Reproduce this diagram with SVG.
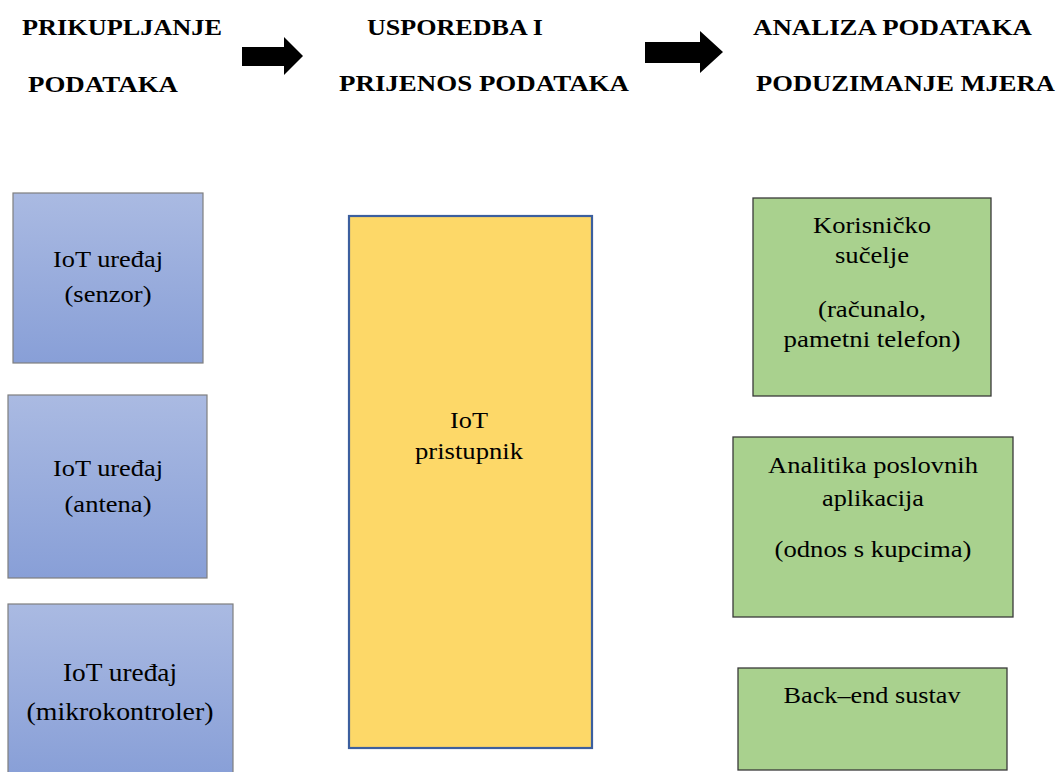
<svg xmlns="http://www.w3.org/2000/svg" width="1059" height="772" viewBox="0 0 1059 772">
<defs>
<linearGradient id="blueGrad" x1="0" y1="0" x2="0" y2="1">
<stop offset="0" stop-color="#aabae2"/>
<stop offset="1" stop-color="#889fd7"/>
</linearGradient>
</defs>
<style>
text{font-family:'Liberation Serif','Times New Roman','DejaVu Serif',serif;fill:#000}
.hdr{font-weight:bold;font-size:23px}
.lbl{font-size:23px;text-anchor:middle}
.big{font-size:25px}
.blue{fill:url(#blueGrad);stroke:#7f7f7f;stroke-width:1.2}
.green{fill:#a9d18e;stroke:#3a3a3a;stroke-width:1.3}
.yellow{fill:#fdd868;stroke:#3c5f9e;stroke-width:2.2}
.arrow{fill:#000}
</style>
<rect width="1059" height="772" fill="#fff"/>
<g id="headers">
<text class="hdr" x="22" y="35" textLength="200" lengthAdjust="spacingAndGlyphs">PRIKUPLJANJE</text>
<text class="hdr" x="28" y="92" textLength="150" lengthAdjust="spacingAndGlyphs">PODATAKA</text>
<text class="hdr" x="367" y="35" textLength="176" lengthAdjust="spacingAndGlyphs">USPOREDBA I</text>
<text class="hdr" x="339" y="91" textLength="290" lengthAdjust="spacingAndGlyphs">PRIJENOS PODATAKA</text>
<text class="hdr" x="753" y="35" textLength="279" lengthAdjust="spacingAndGlyphs">ANALIZA PODATAKA</text>
<text class="hdr" x="756" y="91" textLength="299" lengthAdjust="spacingAndGlyphs">PODUZIMANJE MJERA</text>
</g>
<g id="connectors">
<polygon class="arrow" points="242,47 284,47 284,37 303,56 284,75 284,66 242,66"/>
<polygon class="arrow" points="645,42 700,42 700,31 723,52 700,73 700,63 645,63"/>
</g>
<g id="node-senzor">
<rect class="blue" x="13" y="193" width="190" height="170"/>
<text class="lbl" x="108" y="267" textLength="110" lengthAdjust="spacingAndGlyphs">IoT uređaj</text>
<text class="lbl" x="108" y="302" textLength="87" lengthAdjust="spacingAndGlyphs">(senzor)</text>
</g>
<g id="node-antena">
<rect class="blue" x="8" y="395" width="199" height="183"/>
<text class="lbl" x="108" y="476" textLength="110" lengthAdjust="spacingAndGlyphs">IoT uređaj</text>
<text class="lbl" x="108" y="512" textLength="87" lengthAdjust="spacingAndGlyphs">(antena)</text>
</g>
<g id="node-mikrokontroler">
<rect class="blue" x="8" y="604" width="225" height="172"/>
<text class="lbl big" x="120" y="681" textLength="114" lengthAdjust="spacingAndGlyphs">IoT uređaj</text>
<text class="lbl big" x="120" y="720" textLength="187" lengthAdjust="spacingAndGlyphs">(mikrokontroler)</text>
</g>
<g id="node-pristupnik">
<rect class="yellow" x="349" y="216" width="243" height="532"/>
<text class="lbl" x="469" y="428" textLength="38" lengthAdjust="spacingAndGlyphs">IoT</text>
<text class="lbl" x="469" y="459" textLength="108" lengthAdjust="spacingAndGlyphs">pristupnik</text>
</g>
<g id="node-korisnicko">
<rect class="green" x="753" y="198" width="238" height="198"/>
<text class="lbl" x="872" y="233" textLength="118" lengthAdjust="spacingAndGlyphs">Korisničko</text>
<text class="lbl" x="872" y="263" textLength="74" lengthAdjust="spacingAndGlyphs">sučelje</text>
<text class="lbl" x="872" y="317" textLength="108" lengthAdjust="spacingAndGlyphs">(računalo,</text>
<text class="lbl" x="872" y="347" textLength="177" lengthAdjust="spacingAndGlyphs">pametni telefon)</text>
</g>
<g id="node-analitika">
<rect class="green" x="733" y="437" width="280" height="180"/>
<text class="lbl" x="873" y="473" textLength="210" lengthAdjust="spacingAndGlyphs">Analitika poslovnih</text>
<text class="lbl" x="873" y="506" textLength="102" lengthAdjust="spacingAndGlyphs">aplikacija</text>
<text class="lbl" x="873" y="557" textLength="197" lengthAdjust="spacingAndGlyphs">(odnos s kupcima)</text>
</g>
<g id="node-backend">
<rect class="green" x="738" y="668" width="269" height="102"/>
<text class="lbl" x="872" y="703" textLength="177" lengthAdjust="spacingAndGlyphs">Back–end sustav</text>
</g>
</svg>
